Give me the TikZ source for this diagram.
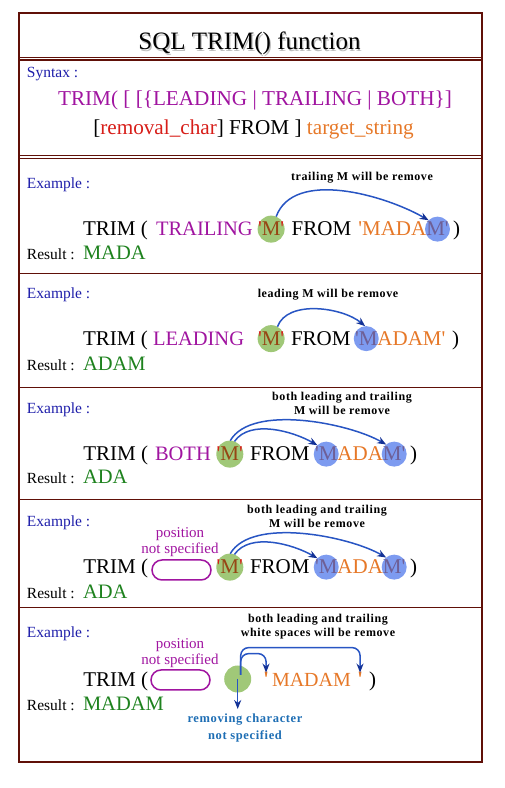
\documentclass[tikz,border=0pt]{standalone}
\usepackage{fontspec}
\setmainfont{Liberation Serif}[Ligatures=TeXOff]
\newfontfamily\notefont[LetterSpace=5]{Liberation Serif}
\usetikzlibrary{positioning,arrows.meta,backgrounds}
\definecolor{framered}{RGB}{96,16,8}
\definecolor{kwpurple}{RGB}{160,20,160}
\definecolor{charred}{RGB}{215,30,25}
\definecolor{strorange}{RGB}{230,120,40}
\definecolor{resgreen}{RGB}{30,130,30}
\definecolor{exblue}{RGB}{30,30,170}
\definecolor{hitgreen}{RGB}{160,200,120}
\definecolor{cutblue}{RGB}{125,155,240}
\definecolor{arrblue}{RGB}{40,85,195}
\definecolor{headblue}{RGB}{20,50,150}
\definecolor{noteblue}{RGB}{30,110,180}
\definecolor{mbrown}{RGB}{150,70,20}
\definecolor{mgrey}{RGB}{110,95,150}
\newcommand{\qm}{{\color{charred}'}{\color{mbrown}M}{\color{charred}'}}
\newcommand{\mgr}[1]{{\color{mgrey}#1}}
\begin{document}
\begin{tikzpicture}[x=1pt,y=1pt,
  every node/.style={inner sep=0pt, outer sep=0pt},
  txt/.style={anchor=base west, font=\fontsize{21}{25}\selectfont},
  kw/.style={txt, text=kwpurple, font=\fontsize{20.5}{25}\selectfont},
  str/.style={txt, text=strorange},
  res/.style={txt, text=resgreen, font=\fontsize{20.5}{25}\selectfont},
  lbl/.style={anchor=base west, font=\fontsize{15.5}{18}\selectfont},
  exlbl/.style={lbl, text=exblue},
  note/.style={align=center, font=\notefont\bfseries\fontsize{12}{13.5}\selectfont},
  posnote/.style={align=center, text=kwpurple, font=\fontsize{15}{16}\selectfont},
  hit/.style={circle, fill=hitgreen, minimum size=27pt},
  cut/.style={circle, fill=cutblue, minimum size=25pt},
  pill/.style={draw=kwpurple, line width=1.5pt, rounded corners=10pt, minimum width=59pt, minimum height=20pt},
  arr/.style={draw=arrblue, line width=1.5pt, -{Stealth[length=9pt,width=7pt,color=headblue]}},
  divider/.style={draw=framered, line width=1.3pt}
  ]
  \useasboundingbox (0,0) rectangle (504,788);
  \draw[framered, line width=2.7pt] (19,26) rectangle (482,775);
  \draw[divider] (19,730.7) -- (482,730.7);
  \draw[divider] (19,728) -- (482,728);
  \draw[divider] (19,632.3) -- (482,632.3);
  \draw[divider] (19,629.5) -- (482,629.5);
  \draw[divider] (19,514.7) -- (482,514.7);
  \draw[divider] (19,400.7) -- (482,400.7);
  \draw[divider] (19,288.7) -- (482,288.7);
  \draw[divider] (19,180.7) -- (482,180.7);

  % title and syntax
  \node[anchor=base, text=black!25, font=\fontsize{25}{30}\selectfont] (ttls) at (250.7,736.8) {SQL TRIM() function};
  \node[anchor=base, font=\fontsize{25}{30}\selectfont] (ttl) at (249.5,738) {SQL TRIM() function};
  \node[exlbl] (syn) at (27,710.7) {Syntax :};
  \node[anchor=base, text=kwpurple, font=\fontsize{21.2}{24}\selectfont] (syn1) at (255,682) {TRIM( [ [\{LEADING | TRAILING | BOTH\}]};
  \node[anchor=base, font=\fontsize{21.2}{24}\selectfont] (syn2) at (253.5,653) {[\textcolor{charred}{removal\_char}] FROM ] \textcolor{strorange}{target\_string}};

  % example 1
  \node[exlbl] (x1) at (27,599) {Example :};
  \node[note] (n1) at (362,610.1) {trailing M will be remove};
  \node[txt] (t1) at (83,552) {TRIM (};
  \node[kw] (k1) at (156,552) {TRAILING};
  \node[txt] (m1) at (258,552) {\qm};
  \node[txt] (f1) at (291.7,552) {FROM};
  \node[str] (s1) at (358.3,552) {'MADA};
  \node[str, base right=0pt of s1] (e1) {\mgr{M'}};
  \node[txt] (c1) at (453,552) {)};
  \node[lbl] (r1) at (27,528.5) {Result :};
  \node[res] (v1) at (83,528.5) {MADA};

  % example 2
  \node[exlbl] (x2) at (27,489) {Example :};
  \node[note] (n2) at (328,493.5) {leading M will be remove};
  \node[txt] (t2) at (83,442.5) {TRIM (};
  \node[kw] (k2) at (153,442.5) {LEADING};
  \node[txt] (m2) at (258,442.5) {\qm};
  \node[txt] (f2) at (291,442.5) {FROM};
  \node[str] (e2) at (355,442.5) {\mgr{'M}};
  \node[str, base right=0pt of e2] (s2) {ADAM'};
  \node[txt] (c2) at (452,442.5) {)};
  \node[lbl] (r2) at (27,417.5) {Result :};
  \node[res] (v2) at (83,417.5) {ADAM};

  % example 3
  \node[exlbl] (x3) at (27,374) {Example :};
  \node[note] (n3) at (342,384.6) {both leading and trailing\\M will be remove};
  \node[txt] (t3) at (83.3,327) {TRIM (};
  \node[kw] (k3) at (155,327) {BOTH};
  \node[txt] (m3) at (216.7,327) {\qm};
  \node[txt] (f3) at (250,327) {FROM};
  \node[str] (e3) at (315,327) {\mgr{'M}};
  \node[str, base right=0pt of e3] (s3) {ADA};
  \node[str, base right=0pt of s3] (l3) {\mgr{M'}};
  \node[txt] (c3) at (410,327) {)};
  \node[lbl] (r3) at (27,304) {Result :};
  \node[res] (v3) at (83,304) {ADA};

  % example 4
  \node[exlbl] (x4) at (27,261) {Example :};
  \node[note] (n4) at (317,271.8) {both leading and trailing\\M will be remove};
  \node[posnote] (w4) at (180,245.7) {position\\not specified};
  \node[txt] (t4) at (83.3,214) {TRIM (};
  \node[pill] (p4) at (181.5,218) {};
  \node[txt] (m4) at (216.7,214) {\qm};
  \node[txt] (f4) at (250,214) {FROM};
  \node[str] (e4) at (315,214) {\mgr{'M}};
  \node[str, base right=0pt of e4] (s4) {ADA};
  \node[str, base right=0pt of s4] (l4) {\mgr{M'}};
  \node[txt] (c4) at (410,214) {)};
  \node[lbl] (r4) at (27,189) {Result :};
  \node[res] (v4) at (83,189) {ADA};

  % example 5
  \node[exlbl] (x5) at (27,150) {Example :};
  \node[note] (n5) at (318,161.3) {both leading and trailing\\white spaces will be remove};
  \node[posnote] (w5) at (180,135) {position\\not specified};
  \node[txt] (t5) at (83.3,101) {TRIM (};
  \node[pill] (p5) at (180.5,108) {};
  \node[hit] (g5) at (237.7,109) {};
  \node[str, font=\bfseries\fontsize{22}{25}\selectfont] (qo5) at (263,101) {'};
  \node[str, font=\fontsize{20}{25}\selectfont] (s5) at (272,101) {MADAM};
  \node[str, font=\bfseries\fontsize{22}{25}\selectfont] (qc5) at (357,101) {'};
  \node[txt] (c5) at (369,101) {)};
  \node[align=center, text=noteblue, font=\notefont\bfseries\fontsize{12.5}{16.6}\selectfont] (d5) at (245,60) {removing character\\not specified};
  \node[lbl] (r5) at (27,77) {Result :};
  \node[res] (v5) at (83,77) {MADAM};

  \begin{scope}[on background layer]
    \node[hit] (g1) at (m1) {};
    \node[cut] (b1) at (e1) {};
    \node[hit] (g2) at (m2) {};
    \node[cut] (b2) at (e2) {};
    \node[hit] (g3) at (m3) {};
    \node[cut] (b3a) at (e3) {};
    \node[cut] (b3b) at (l3) {};
    \node[hit] (g4) at (m4) {};
    \node[cut] (b4a) at (e4) {};
    \node[cut] (b4b) at (l4) {};
  \end{scope}

  \draw[arr] (g1.68) to[out=70,in=150,looseness=0.85] (b1.135);
  \draw[arr] (g2.62) to[out=70,in=140,looseness=0.85] (b2.95);
  \draw[arr] (g3.70) to[out=55,in=150,looseness=0.85] (b3a.135);
  \draw[arr] (g3.88) to[out=60,in=150,looseness=0.7] (b3b.130);
  \draw[arr] (g4.70) to[out=55,in=150,looseness=0.85] (b4a.135);
  \draw[arr] (g4.88) to[out=60,in=150,looseness=0.7] (b4b.130);
  \draw[arr, rounded corners=8pt] ([xshift=3pt,yshift=4pt]g5.center) |- ([yshift=25pt]qc5.north) -- (qc5.north);
  \draw[arr, rounded corners=8pt] ([xshift=3pt,yshift=4pt]g5.center) |- ([yshift=19pt]qo5.north) -- (qo5.north);
  \draw[arr] (g5.center) -- ([yshift=5pt]g5.center |- d5.north);
\end{tikzpicture}
\end{document}
